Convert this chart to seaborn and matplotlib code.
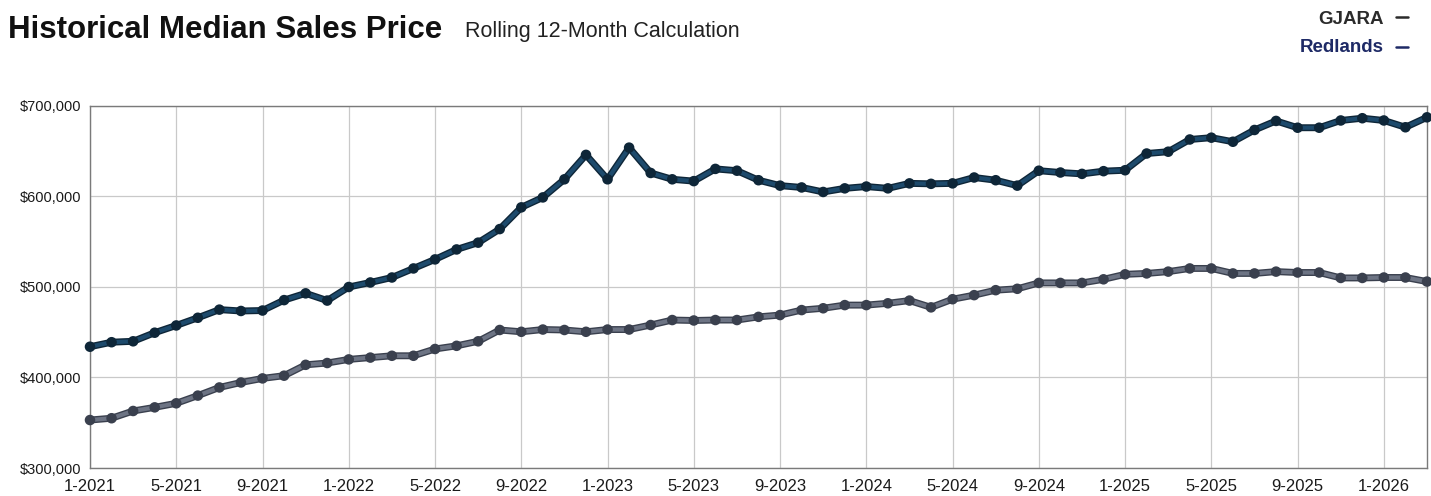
import matplotlib
matplotlib.use("Agg")
import matplotlib.pyplot as plt
import seaborn as sns
import pandas as pd
from matplotlib import patheffects as pe
from matplotlib.ticker import FuncFormatter, MultipleLocator

# Rolling 12-month median sales price, monthly from 1-2021 through 3-2026
redlands = [
    434000, 439000, 440000, 449500, 457500, 466000, 475000, 473500, 474000, 485500,
    493000, 485000, 500000, 505000, 510500, 520500, 530500, 541500, 549000, 564000,
    588000, 599000, 619000, 646000, 619000, 654000, 626000, 619000, 617000, 630500,
    628500, 618000, 612000, 610000, 605000, 609000, 611000, 609000, 614500, 614000,
    614500, 621000, 618000, 612000, 628500, 626500, 625000, 628000, 629000, 647500,
    649500, 663000, 665000, 660500, 673500, 683500, 676000, 676000, 684000, 686500,
    684000, 676500, 687500,
]

gjara = [
    353000, 355000, 363000, 367000, 371500, 380000, 389000, 394500, 399000, 402000,
    414000, 416000, 420000, 422000, 424000, 424000, 431500, 435000, 440000, 452500,
    450500, 453000, 452500, 450500, 453000, 453000, 458000, 463500, 463000, 463500,
    463500, 467000, 469000, 474500, 476500, 480000, 480000, 482000, 485000, 477500,
    486500, 491000, 496500, 498000, 504500, 504500, 504500, 508500, 514000, 515000,
    517000, 520500, 520500, 515000, 515000, 517000, 516000, 516000, 510000, 510000,
    510500, 510500, 506000,
]

tick_labels = ["1-2021", "5-2021", "9-2021", "1-2022", "5-2022", "9-2022", "1-2023",
               "5-2023", "9-2023", "1-2024", "5-2024", "9-2024", "1-2025", "5-2025",
               "9-2025", "1-2026"]

series_names = ["GJARA", "Redlands"]
line_colors = {"GJARA": "#6d7484", "Redlands": "#1d4a6c"}
edge_colors = {"GJARA": "#3a404e", "Redlands": "#0e2638"}

df = pd.concat([
    pd.DataFrame({"month": range(len(gjara)), "price": gjara, "area": "GJARA"}),
    pd.DataFrame({"month": range(len(redlands)), "price": redlands, "area": "Redlands"}),
])

sns.set_style("white")
plt.rcParams["font.family"] = ["Liberation Sans", "DejaVu Sans"]

fig = plt.figure(figsize=(14.31, 4.96), dpi=100)
ax = fig.add_axes([90 / 1431, 28 / 496, 1337 / 1431, 362 / 496])

sns.lineplot(data=df, x="month", y="price", hue="area", hue_order=series_names,
             palette=line_colors, linewidth=3.0, marker="o", markersize=2.6,
             markeredgewidth=0, legend=False, ax=ax, zorder=3)

for line, name in zip(ax.lines, series_names):
    line.set_clip_on(False)
    line.set_markerfacecolor(edge_colors[name])
    line.set_path_effects([pe.Stroke(linewidth=5.0, foreground=edge_colors[name]), pe.Normal()])

ax.set_xlim(0, len(redlands) - 1)
ax.set_ylim(300000, 700000)
ax.set_xticks(range(0, 4 * len(tick_labels), 4))
ax.set_xticklabels(tick_labels)
ax.yaxis.set_major_locator(MultipleLocator(100000))
ax.yaxis.set_major_formatter(FuncFormatter(lambda v, p: f"${v:,.0f}"))
ax.set_xlabel("")
ax.set_ylabel("")

ax.grid(True, color="#c9c9c9", linewidth=0.9)
ax.set_axisbelow(True)
for s in ax.spines.values():
    s.set_color("#7a7a7a")
    s.set_linewidth(1.0)

ax.tick_params(axis="x", length=4, width=0.9, color="#7a7a7a", pad=4,
               labelsize=12, labelcolor="#1a1a1a", direction="out")
ax.tick_params(axis="y", length=0, pad=6, labelsize=10.5, labelcolor="#1a1a1a")

# Title and subtitle
fig.text(8 / 1431, 1 - 38 / 496, "Historical Median Sales Price", fontsize=22.5,
         fontweight="bold", color="#111111", va="baseline")
fig.text(465 / 1431, 1 - 37 / 496, "Rolling 12-Month Calculation", fontsize=15.5,
         color="#222222", va="baseline")

# Legend entries at the top right
fig.text(1384 / 1431, 1 - 19 / 496, "GJARA", fontsize=13.5, fontweight="bold",
         color="#2b2b2b", ha="right", va="center")
fig.text(1384 / 1431, 1 - 48 / 496, "Redlands", fontsize=13.5, fontweight="bold",
         color="#1e2a66", ha="right", va="center")
fig.lines.append(plt.Line2D([1396 / 1431, 1408 / 1431], [1 - 17 / 496] * 2,
                            transform=fig.transFigure, color="#2b2b2b", linewidth=1.8))
fig.lines.append(plt.Line2D([1396 / 1431, 1408 / 1431], [1 - 47 / 496] * 2,
                            transform=fig.transFigure, color="#1e2a66", linewidth=1.8))

fig.savefig("out.png", dpi=100)
